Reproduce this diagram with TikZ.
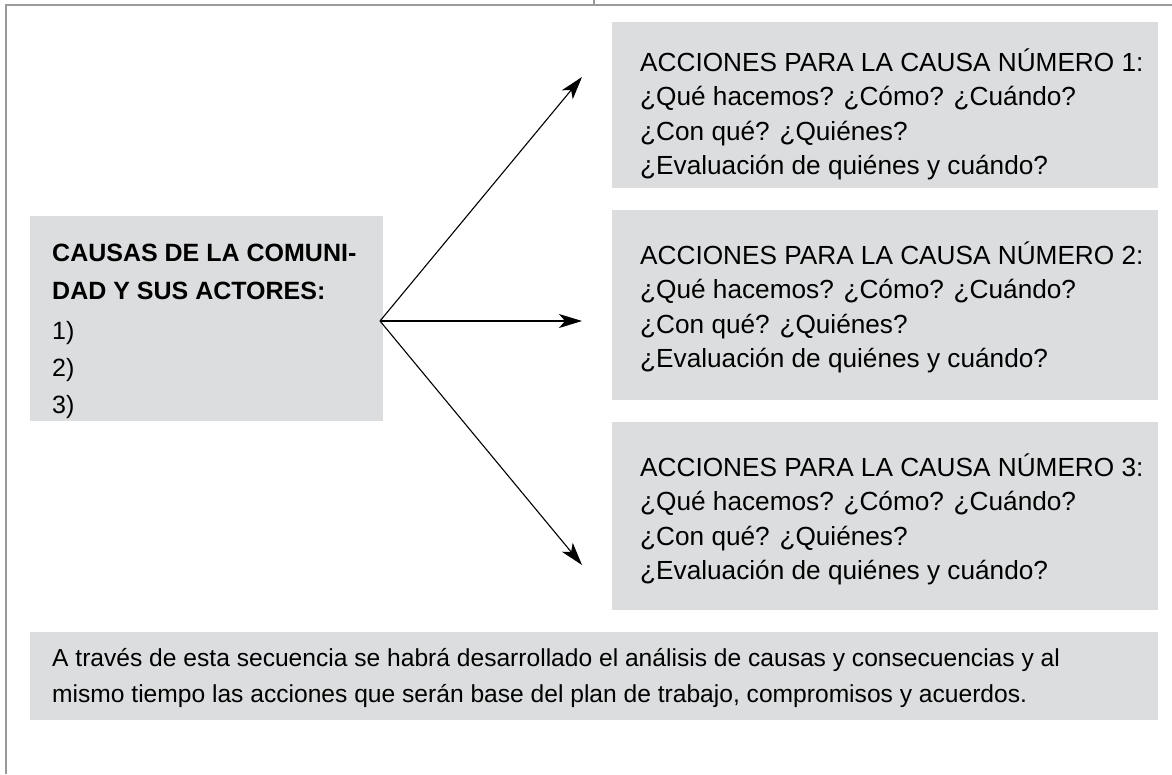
\documentclass[tikz,border=0pt]{standalone}
\usepackage{fontspec}
\setmainfont{Liberation Sans}
\usetikzlibrary{arrows.meta}
\definecolor{boxgray}{HTML}{DCDDDE}
\definecolor{framegray}{HTML}{9A9A9A}
\begin{document}
\begin{tikzpicture}[x=1pt,y=-1pt,
  panel/.style={fill=boxgray, draw=none, inner sep=0pt, anchor=north west},
  ln/.style={anchor=base west, inner sep=0pt, font=\fontsize{26.2}{30}\selectfont},
  lnbt/.style={anchor=base west, inner sep=0pt, font=\fontsize{24.6}{30}\selectfont},
  lnl/.style={anchor=base west, inner sep=0pt, font=\fontsize{25}{30}\selectfont},
  lnb/.style={lnl, font=\fontsize{25}{30}\selectfont\bfseries},
  arr/.style={-{Stealth[length=23pt,width=14pt,inset=6pt]}, line width=1.1pt}]
\useasboundingbox (0,0) rectangle (1172,774);
% frame
\draw[framegray, line width=1.5pt] (6,774) -- (6,5) -- (1172,5);
\draw[framegray, line width=1.2pt] (594,0) -- (594,5);
% panels
\node[panel, minimum width=546pt, minimum height=166pt] (b1) at (612,22) {};
\node[panel, minimum width=546pt, minimum height=190pt] (b2) at (612,210) {};
\node[panel, minimum width=546pt, minimum height=188pt] (b3) at (612,422) {};
\node[panel, minimum width=353pt, minimum height=205pt] (lb) at (30,216) {};
\node[panel, minimum width=1128pt, minimum height=88pt] (bb) at (30,632) {};
% right panel texts
\foreach \n/\y in {1/71, 2/264, 3/476}{
  \node[ln] (b\n l1) at (640,\y) {ACCIONES PARA LA CAUSA NÚMERO \n:};
  \node[ln] (b\n l2) at (640,\y+34.5) {¿Qué hacemos? ¿Cómo? ¿Cuándo?};
  \node[ln] (b\n l3) at (640,\y+69) {¿Con qué? ¿Quiénes?};
  \node[ln] (b\n l4) at (640,\y+103.5) {¿Evaluación de quiénes y cuándo?};
}
% left panel text
\node[lnb] (lt1) at (52,261) {CAUSAS DE LA COMUNI-};
\node[lnb] (lt2) at (52,299) {DAD Y SUS ACTORES:};
\node[lnl] (lt3) at (52,339) {1)};
\node[lnl] (lt4) at (52,376) {2)};
\node[lnl] (lt5) at (52,413) {3)};
% bottom text
\node[lnbt] (bt1) at (52,666) {A través de esta secuencia se habrá desarrollado el análisis de causas y consecuencias y al};
\node[lnbt] (bt2) at (52,702) {mismo tiempo las acciones que serán base del plan de trabajo, compromisos y acuerdos.};
% arrows
\coordinate (o) at (380,321);
\coordinate (t1) at (582,77);
\coordinate (t2) at (582,321);
\coordinate (t3) at (582,565);
\draw[arr] (o) -- (t1);
\draw[arr] (o) -- (t2);
\draw[arr] (o) -- (t3);
\end{tikzpicture}
\end{document}
